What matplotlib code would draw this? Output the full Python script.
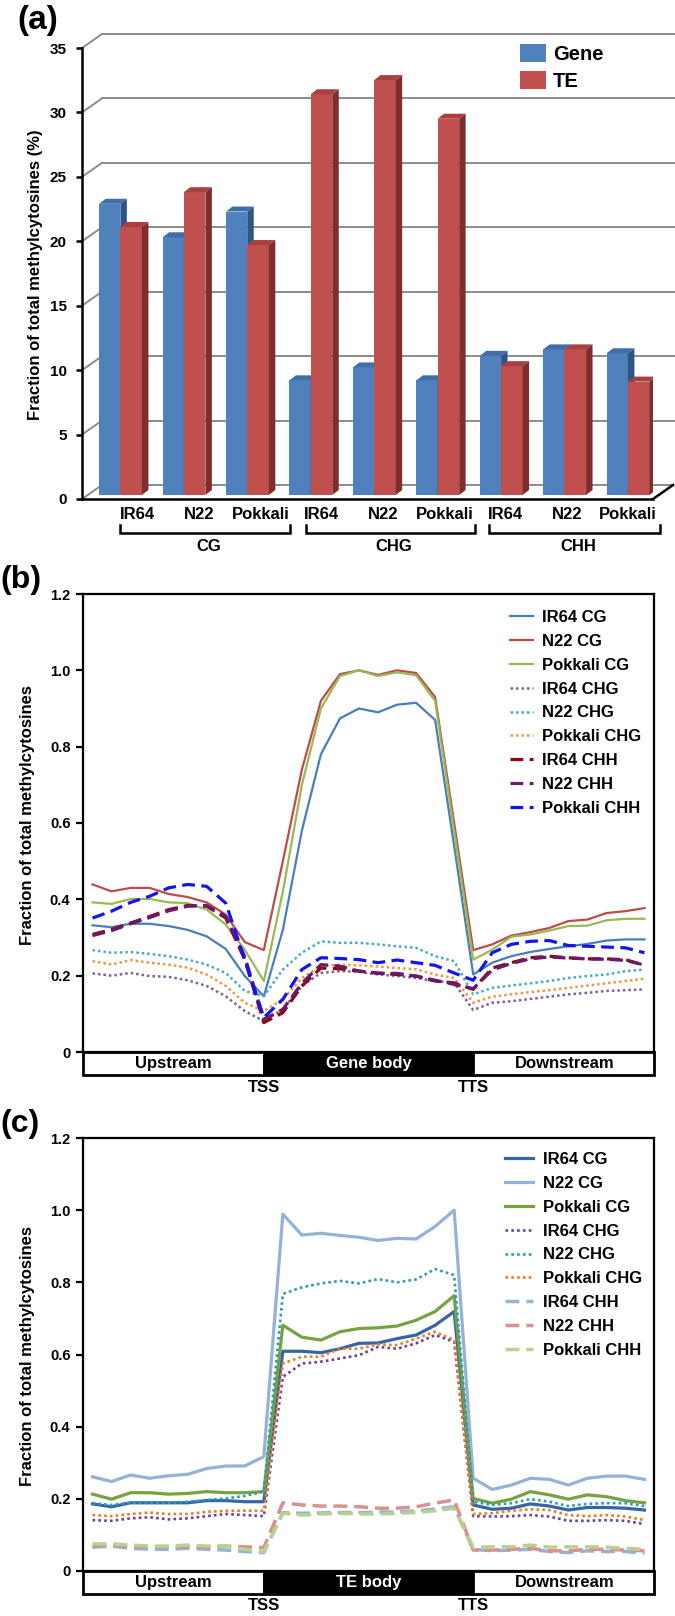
import matplotlib
matplotlib.use("Agg")
import matplotlib.pyplot as plt
from matplotlib.patches import Polygon, Rectangle, Patch

plt.rcParams["font.family"] = ["Liberation Sans", "DejaVu Sans"]
plt.rcParams["font.weight"] = "bold"

# ── Data ──────────────────────────────────────────────────────────────────────

CULTIVARS = ["IR64", "N22", "Pokkali"]
CONTEXTS = ["CG", "CHG", "CHH"]
GENE_PCT = [22.6, 20.0, 22.0, 8.9, 9.9, 8.9, 10.8, 11.3, 11.0]
TE_PCT = [20.8, 23.5, 19.4, 31.1, 32.2, 29.2, 10.0, 11.3, 8.8]

# 30 bins: 10 upstream, 10 body, 10 downstream
GENE_IR64_CG = [0.332, 0.327, 0.336, 0.336, 0.330, 0.320, 0.303, 0.270, 0.199, 0.146,
                0.32, 0.58, 0.78, 0.874, 0.90, 0.89, 0.91, 0.915, 0.87, 0.54,
                0.203, 0.234, 0.251, 0.262, 0.270, 0.277, 0.283, 0.292, 0.295, 0.295]
GENE_N22_CG = [0.439, 0.421, 0.430, 0.430, 0.414, 0.406, 0.392, 0.360, 0.288, 0.267,
               0.50, 0.74, 0.92, 0.99, 1.0, 0.988, 1.0, 0.993, 0.93, 0.60,
               0.267, 0.282, 0.305, 0.314, 0.325, 0.343, 0.347, 0.364, 0.369, 0.377]
GENE_POK_CG = [0.392, 0.388, 0.401, 0.401, 0.392, 0.390, 0.373, 0.334, 0.268, 0.186,
               0.42, 0.70, 0.90, 0.985, 1.0, 0.985, 0.995, 0.987, 0.92, 0.58,
               0.242, 0.268, 0.302, 0.308, 0.318, 0.330, 0.331, 0.345, 0.349, 0.349]
GENE_IR64_CHG = [0.206, 0.200, 0.207, 0.199, 0.197, 0.188, 0.173, 0.146, 0.107, 0.081,
                 0.112, 0.173, 0.207, 0.212, 0.210, 0.203, 0.199, 0.194, 0.186, 0.181,
                 0.110, 0.129, 0.133, 0.139, 0.145, 0.151, 0.155, 0.160, 0.162, 0.164]
GENE_N22_CHG = [0.267, 0.260, 0.262, 0.257, 0.251, 0.242, 0.229, 0.207, 0.160, 0.146,
                0.216, 0.260, 0.290, 0.286, 0.286, 0.282, 0.277, 0.273, 0.251, 0.238,
                0.151, 0.168, 0.174, 0.180, 0.186, 0.194, 0.199, 0.203, 0.212, 0.216]
GENE_POK_CHG = [0.238, 0.229, 0.241, 0.234, 0.229, 0.221, 0.203, 0.173, 0.129, 0.107,
                0.138, 0.194, 0.225, 0.229, 0.227, 0.224, 0.220, 0.217, 0.203, 0.194,
                0.129, 0.145, 0.151, 0.157, 0.162, 0.168, 0.174, 0.180, 0.186, 0.192]
GENE_IR64_CHH = [0.308, 0.321, 0.338, 0.355, 0.373, 0.384, 0.382, 0.351, 0.242, 0.077,
                 0.103, 0.173, 0.220, 0.218, 0.212, 0.207, 0.203, 0.199, 0.186, 0.181,
                 0.164, 0.220, 0.234, 0.247, 0.251, 0.247, 0.244, 0.244, 0.242, 0.227]
GENE_N22_CHH = [0.305, 0.318, 0.336, 0.352, 0.370, 0.382, 0.384, 0.355, 0.250, 0.085,
                0.112, 0.180, 0.229, 0.225, 0.212, 0.206, 0.206, 0.199, 0.188, 0.177,
                0.166, 0.215, 0.232, 0.244, 0.249, 0.246, 0.244, 0.243, 0.240, 0.228]
GENE_POK_CHH = [0.351, 0.369, 0.392, 0.408, 0.430, 0.439, 0.434, 0.390, 0.242, 0.090,
                0.138, 0.216, 0.247, 0.245, 0.242, 0.234, 0.241, 0.234, 0.227, 0.207,
                0.188, 0.260, 0.282, 0.290, 0.292, 0.279, 0.277, 0.275, 0.273, 0.260]

TE_IR64_CG = [0.186, 0.178, 0.189, 0.189, 0.189, 0.189, 0.195, 0.195, 0.192, 0.192,
              0.609, 0.609, 0.605, 0.616, 0.631, 0.632, 0.644, 0.654, 0.681, 0.719,
              0.183, 0.171, 0.174, 0.186, 0.180, 0.169, 0.176, 0.176, 0.174, 0.169]
TE_N22_CG = [0.261, 0.248, 0.266, 0.257, 0.264, 0.268, 0.284, 0.291, 0.291, 0.317,
             0.989, 0.931, 0.936, 0.930, 0.925, 0.916, 0.922, 0.920, 0.955, 1.0,
             0.257, 0.226, 0.238, 0.257, 0.254, 0.238, 0.257, 0.263, 0.263, 0.254]
TE_POK_CG = [0.213, 0.199, 0.217, 0.217, 0.213, 0.215, 0.220, 0.217, 0.217, 0.220,
             0.681, 0.648, 0.640, 0.663, 0.672, 0.674, 0.679, 0.695, 0.719, 0.763,
             0.201, 0.188, 0.199, 0.220, 0.211, 0.199, 0.211, 0.206, 0.195, 0.189]
TE_IR64_CHG = [0.141, 0.139, 0.146, 0.149, 0.143, 0.146, 0.152, 0.158, 0.155, 0.152,
               0.538, 0.575, 0.580, 0.589, 0.598, 0.621, 0.616, 0.631, 0.654, 0.635,
               0.152, 0.151, 0.152, 0.155, 0.151, 0.139, 0.139, 0.141, 0.139, 0.130]
TE_N22_CHG = [0.188, 0.183, 0.189, 0.189, 0.189, 0.192, 0.197, 0.201, 0.208, 0.220,
              0.768, 0.786, 0.797, 0.804, 0.797, 0.809, 0.800, 0.808, 0.837, 0.820,
              0.192, 0.183, 0.188, 0.199, 0.192, 0.180, 0.186, 0.188, 0.188, 0.180]
TE_POK_CHG = [0.155, 0.152, 0.158, 0.162, 0.158, 0.158, 0.164, 0.167, 0.167, 0.167,
              0.575, 0.594, 0.594, 0.616, 0.616, 0.628, 0.626, 0.644, 0.663, 0.640,
              0.158, 0.160, 0.167, 0.171, 0.169, 0.155, 0.152, 0.155, 0.151, 0.141]
TE_IR64_CHH = [0.066, 0.069, 0.063, 0.060, 0.060, 0.063, 0.060, 0.058, 0.054, 0.051,
               0.162, 0.160, 0.161, 0.162, 0.162, 0.163, 0.164, 0.166, 0.172, 0.178,
               0.060, 0.056, 0.058, 0.060, 0.054, 0.051, 0.056, 0.054, 0.054, 0.049]
TE_N22_CHH = [0.069, 0.072, 0.067, 0.067, 0.067, 0.067, 0.066, 0.069, 0.067, 0.065,
              0.189, 0.183, 0.180, 0.180, 0.178, 0.174, 0.174, 0.178, 0.188, 0.197,
              0.058, 0.058, 0.060, 0.063, 0.056, 0.056, 0.060, 0.060, 0.058, 0.056]
TE_POK_CHH = [0.075, 0.075, 0.072, 0.069, 0.069, 0.072, 0.069, 0.069, 0.060, 0.054,
              0.160, 0.155, 0.158, 0.160, 0.158, 0.158, 0.160, 0.162, 0.167, 0.174,
              0.066, 0.067, 0.067, 0.072, 0.066, 0.067, 0.067, 0.066, 0.063, 0.060]

YTICKS = [0, 0.2, 0.4, 0.6, 0.8, 1.0, 1.2]
YTICK_LABELS = ["0", "0.2", "0.4", "0.6", "0.8", "1.0", "1.2"]

# ── Styles ────────────────────────────────────────────────────────────────────

DOT = (0, (1, 1.2))
DASH = (0, (4, 2))

GENE_SERIES = [
    ("IR64 CG", GENE_IR64_CG, "#4A7EBB", "-", 1.6),
    ("N22 CG", GENE_N22_CG, "#BE4B48", "-", 1.6),
    ("Pokkali CG", GENE_POK_CG, "#98B954", "-", 1.6),
    ("IR64 CHG", GENE_IR64_CHG, "#7D5FA0", DOT, 1.8),
    ("N22 CHG", GENE_N22_CHG, "#46AAC5", DOT, 1.8),
    ("Pokkali CHG", GENE_POK_CHG, "#F69240", DOT, 1.8),
    ("IR64 CHH", GENE_IR64_CHH, "#8B0A0A", DASH, 2.3),
    ("N22 CHH", GENE_N22_CHH, "#6A1A6E", DASH, 2.3),
    ("Pokkali CHH", GENE_POK_CHH, "#1414F0", DASH, 2.3),
]

TE_SERIES = [
    ("IR64 CG", TE_IR64_CG, "#3565A5", "-", 2.3),
    ("N22 CG", TE_N22_CG, "#94B2D8", "-", 2.3),
    ("Pokkali CG", TE_POK_CG, "#76A23F", "-", 2.3),
    ("IR64 CHG", TE_IR64_CHG, "#6F3F9E", DOT, 1.9),
    ("N22 CHG", TE_N22_CHG, "#2A9BB8", DOT, 1.9),
    ("Pokkali CHG", TE_POK_CHG, "#F07A1E", DOT, 1.9),
    ("IR64 CHH", TE_IR64_CHH, "#95B3D7", DASH, 2.5),
    ("N22 CHH", TE_N22_CHH, "#D9908E", DASH, 2.5),
    ("Pokkali CHH", TE_POK_CHH, "#B8D28E", DASH, 2.5),
]

W, H = 675, 1616
fig = plt.figure(figsize=(W / 100, H / 100), dpi=100)


def px_axes(left, top, right, bottom):
    return fig.add_axes([left / W, 1 - bottom / H, (right - left) / W, (bottom - top) / H])


def ftext(x, y, s, **kw):
    fig.text(x / W, 1 - y / H, s, **kw)


# ── (a) 3D-style bar chart ────────────────────────────────────────────────────

ax = px_axes(82, 48, 653, 499)
ax.set_xlim(0, 9)
ax.set_ylim(0, 35)
for side in ("top", "right"):
    ax.spines[side].set_visible(False)
ax.spines["left"].set_linewidth(1.8)
ax.spines["bottom"].set_linewidth(1.8)
ax.set_xticks([])
ax.set_yticks(range(0, 36, 5))
ax.tick_params(axis="y", length=4, width=1.8, labelsize=11, pad=7)

BDX, BDY = 0.315, 1.086   # back wall offset
SDX, SDY = 0.102, 0.388   # bar depth
BASE = 0.31
grid_c = "#8C8C8C"
for v in range(0, 36, 5):
    ax.plot([0, BDX], [v, v + BDY], color=grid_c, lw=1.4, clip_on=False, zorder=1)
    x_end = 9 + BDX if v == 0 else 9.36
    ax.plot([BDX, x_end], [v + BDY, v + BDY], color=grid_c, lw=1.4, clip_on=False, zorder=1)
ax.plot([9, 9 + BDX], [0, BDY], color="black", lw=1.8, clip_on=False, zorder=2)


def bar3d(lefts, vals, width, front, top, side, z):
    ax.bar(lefts, vals, width, bottom=BASE, align="edge", color=front, lw=0, zorder=z)
    for l, v in zip(lefts, vals):
        t = BASE + v
        ax.add_patch(Polygon([(l, t), (l + width, t), (l + width + SDX, t + SDY), (l + SDX, t + SDY)],
                             closed=True, fc=top, lw=0, zorder=z))
        ax.add_patch(Polygon([(l + width, BASE), (l + width + SDX, BASE + SDY),
                              (l + width + SDX, t + SDY), (l + width, t)],
                             closed=True, fc=side, lw=0, zorder=z))


idx = list(range(len(GENE_PCT)))
bar3d([i + 0.27 for i in idx], GENE_PCT, 0.335, "#4F81BD", "#3F6FA8", "#2F5586", 3)
bar3d([i + 0.605 for i in idx], TE_PCT, 0.34, "#C0504D", "#A8413E", "#7E2E2C", 4)

lab_y = -1.24
for i in idx:
    ax.text(i + 0.5 + 0.38 - 0.034 * i, lab_y, CULTIVARS[i % 3], ha="center", va="center",
            fontsize=12, clip_on=False)

brackets = [(0.60, 3.28), (3.53, 6.19), (6.42, 9.11)]
for (x0, x1), name in zip(brackets, CONTEXTS):
    ax.plot([x0, x0, x1, x1], [-2.02, -2.64, -2.64, -2.02], color="black", lw=1.8,
            clip_on=False, solid_joinstyle="miter")
    ax.text((x0 + x1) / 2 + 0.05, -3.65, name, ha="center", va="center", fontsize=12, clip_on=False)

ax.legend(handles=[Patch(fc="#4F81BD"), Patch(fc="#C0504D")], labels=["Gene", "TE"],
          loc="upper left", bbox_to_anchor=(520 / W, 1 - 44 / H), bbox_transform=fig.transFigure,
          frameon=False, prop={"size": 14.5, "weight": "bold"}, handlelength=1.3, handleheight=1.0,
          handletextpad=0.35, labelspacing=0.35, borderpad=0, borderaxespad=0)

ftext(36, 275, "Fraction of total methylcytosines (%)", rotation=90, ha="center", va="center",
      fontsize=12)
ftext(17, 21, "(a)", fontsize=24, ha="left", va="center")


# ── (b) / (c) profiles ────────────────────────────────────────────────────────

def profile(rect, series, body_label, legend_xy, handlelen, ylab_y):
    ax = px_axes(*rect)
    x = list(range(30))
    for name, vals, color, ls, lw in series:
        ax.plot(x, vals, color=color, linestyle=ls, lw=lw, label=name)
    ax.set_xlim(-0.5, 29.5)
    ax.set_ylim(0, 1.2)
    ax.set_xticks([])
    ax.set_yticks(YTICKS)
    ax.set_yticklabels(YTICK_LABELS)
    ax.tick_params(axis="y", length=5, width=1.6, labelsize=10.5, pad=4)
    for s in ax.spines.values():
        s.set_linewidth(1.6)

    px_per_unit = (rect[3] - rect[1]) / 1.2
    hb = 23 / px_per_unit
    ax.add_patch(Rectangle((-0.5, -hb), 9.5, hb, fc="white", ec="black", lw=2, clip_on=False))
    ax.add_patch(Rectangle((9, -hb), 11, hb, fc="black", ec="black", lw=2, clip_on=False))
    ax.add_patch(Rectangle((20, -hb), 9.5, hb, fc="white", ec="black", lw=2, clip_on=False))
    ax.text(4.25, -hb / 2, "Upstream", ha="center", va="center", fontsize=12, clip_on=False)
    ax.text(14.5, -hb / 2, body_label, ha="center", va="center", fontsize=12, color="white",
            clip_on=False)
    ax.text(24.8, -hb / 2, "Downstream", ha="center", va="center", fontsize=12, clip_on=False)
    ty = -35 / px_per_unit
    ax.text(9, ty, "TSS", ha="center", va="center", fontsize=12, clip_on=False)
    ax.text(20, ty, "TTS", ha="center", va="center", fontsize=12, clip_on=False)

    ax.legend(loc="upper left", bbox_to_anchor=(legend_xy[0] / W, 1 - legend_xy[1] / H),
              bbox_transform=fig.transFigure, frameon=False, prop={"size": 12, "weight": "bold"},
              handlelength=handlelen, handletextpad=0.6, labelspacing=0.53, borderpad=0,
              borderaxespad=0)
    ftext(28, ylab_y, "Fraction of total methylcytosines", rotation=90, ha="center",
          va="center", fontsize=12)
    return ax


profile((83, 594, 654, 1052), GENE_SERIES, "Gene body", (510, 610), 1.35, 815)
ftext(0, 580, "(b)", fontsize=23, ha="left", va="center")

profile((83, 1138, 654, 1571), TE_SERIES, "TE body", (505, 1152), 1.7, 1356)
ftext(0, 1124, "(c)", fontsize=23, ha="left", va="center")

fig.savefig("out.png", dpi=100)
